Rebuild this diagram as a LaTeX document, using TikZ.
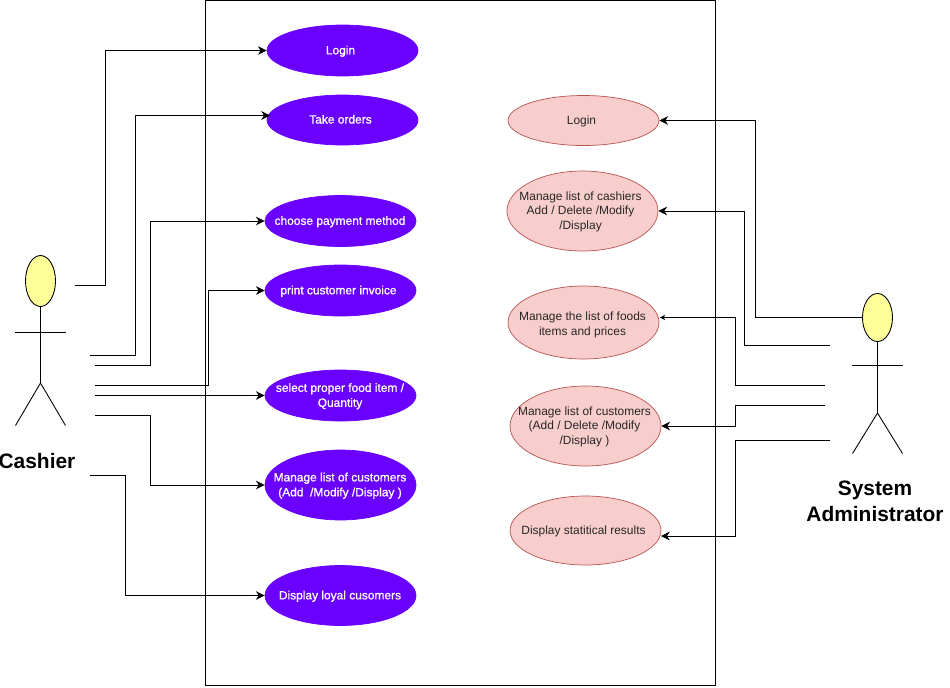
\documentclass[tikz,border=0pt]{standalone}
\usepackage{fontspec}
\setmainfont{Liberation Sans}
\newfontfamily\cashfont[FakeBold=1]{Liberation Sans}
\usetikzlibrary{arrows.meta,shapes.geometric}
\definecolor{cashcase}{HTML}{6A00FF}
\definecolor{admincase}{HTML}{F8CECC}
\definecolor{adminline}{HTML}{B85450}
\definecolor{headfill}{HTML}{FFFF99}
\tikzset{
    usecase/.style={ellipse,draw,inner sep=0pt,minimum width=151*0.02cm,line width=0.4pt},
    cashcase/.style={usecase,draw=cashcase,fill=cashcase},
    admincase/.style={usecase,draw=adminline,fill=admincase},
    casetext/.style={inner sep=0pt,align=center,xshift=-0.04cm,yshift=-0.015cm},
    cashtext/.style={casetext,text=white,font=\fontsize{6.8}{8.5}\selectfont\cashfont},
    admintext/.style={casetext,text=black!85,font=\fontsize{6.8}{8.4}\selectfont},
    nudge/.style={xshift=0.03cm},
    actorhead/.style={ellipse,draw,fill=headfill,inner sep=0pt,minimum width=30*0.02cm,line width=0.5pt},
    actorname/.style={align=center,inner sep=0pt,font=\fontsize{11.9}{14.8}\selectfont\bfseries},
    link/.style={-{Stealth[length=5pt,width=5pt]},line width=0.57pt},
    limb/.style={line width=0.5pt}
}
\begin{document}
\begin{tikzpicture}[x=0.02cm,y=-0.02cm]
    \useasboundingbox (0,0) rectangle (950,687);

    % System box
    \node[draw,line width=0.57pt,inner sep=0pt,minimum width=510*0.02cm,minimum height=685*0.02cm] (sysbox) at (460.5,343) {};

    % Cashier use cases
    \node[cashcase,minimum height=51*0.02cm,label={[cashtext]center:Login}] (login) at (342.5,50.5) {};
    \node[cashcase,minimum height=50*0.02cm,label={[cashtext,yshift=0.03cm]center:Take orders}] (orders) at (342.5,120) {};
    \node[cashcase,minimum height=51*0.02cm,label={[cashtext,nudge]center:choose payment method}] (payment) at (340.5,221) {};
    \node[cashcase,minimum height=51*0.02cm,label={[cashtext]center:print customer invoice}] (invoice) at (340.5,290.5) {};
    \node[cashcase,minimum height=51*0.02cm,label={[cashtext,nudge]center:select proper food item /\\Quantity}] (food) at (340.5,395.5) {};
    \node[cashcase,minimum height=70*0.02cm,label={[cashtext,nudge]center:Manage list of customers\\(Add \ /Modify /Display )}] (customers) at (340.5,485) {};
    \node[cashcase,minimum height=60*0.02cm,label={[cashtext,nudge]center:Display loyal cusomers}] (loyal) at (340.5,595.5) {};

    % Administrator use cases
    \node[admincase,minimum height=50*0.02cm,label={[admintext]center:Login}] (adlogin) at (583.5,120.5) {};
    \node[admincase,minimum height=80*0.02cm,label={[admintext]center:Manage list of cashiers\\Add / Delete /Modify\\/Display}] (adcashiers) at (582.5,211) {};
    \node[admincase,minimum height=73*0.02cm,label={[admintext,xshift=0.02cm,yshift=-0.03cm]center:Manage the list of foods\\items and prices}] (adfoods) at (583.5,322.5) {};
    \node[admincase,minimum height=80*0.02cm,label={[admintext,xshift=0.02cm]center:Manage list of customers\\(Add / Delete /Modify\\/Display )}] (adcustomers) at (585.5,426) {};
    \node[admincase,minimum height=69*0.02cm,label={[admintext]center:Display statitical results}] (adresults) at (585.5,530.5) {};

    % Cashier actor
    \node[actorhead,minimum height=51*0.02cm] (cashhead) at (40.5,281) {};
    \coordinate (cashhip) at (40.5,383);
    \draw[limb] (cashhead.south) -- (cashhip);
    \draw[limb] (15,332) -- (66,332);
    \draw[limb] (15.5,425.5) -- (cashhip) -- (65.5,425.5);
    \node[actorname] (cashname) at (37,461) {Cashier};

    % Administrator actor
    \node[actorhead,minimum height=48*0.02cm] (adminhead) at (877.5,317.5) {};
    \coordinate (adminhip) at (877.5,413);
    \draw[limb] (adminhead.south) -- (adminhip);
    \draw[limb] (852,365.5) -- (903,365.5);
    \draw[limb] (852.5,453.5) -- (adminhip) -- (902.5,453.5);
    \node[actorname] (adminname) at (875,501) {System\\Administrator};

    % Free ends beside the actors
    \coordinate (c1) at (75,285.5);
    \coordinate (c2) at (90,355.5);
    \coordinate (c3) at (95,365.5);
    \coordinate (c4) at (95,385.5);
    \coordinate (c5) at (95,395.5);
    \coordinate (c6) at (95,415.5);
    \coordinate (c7) at (90,475.5);
    \coordinate (a2) at (830,345.5);
    \coordinate (a3) at (825,385.5);
    \coordinate (a4) at (825,405.5);
    \coordinate (a5) at (830,440.5);
    \coordinate (ordersin) at (270,115.5);
    \coordinate (foodsin) at (660,317.5);
    \coordinate (resultsin) at (661,536);

    % Cashier links
    \draw[link] (c1) -- (105.5,285.5) |- (login.west);
    \draw[link] (c2) -- (135.5,355.5) |- (ordersin);
    \draw[link] (c3) -- (150.5,365.5) |- (payment.west);
    \draw[link] (c4) -- (208.5,385.5) |- (invoice.west);
    \draw[link] (c5) -- (food.west);
    \draw[link] (c6) -- (150.5,415.5) |- (customers.west);
    \draw[link] (c7) -- (125.5,475.5) |- (loyal.west);

    % Administrator links
    \draw[link] (adminhead.west) -- (755.5,317.5) |- (adlogin.east);
    \draw[link] (a2) -- (744,345.5) |- (adcashiers.east);
    \draw[-{Stealth[length=3pt,width=3pt]},line width=0.57pt] (a3) -- (735.5,385.5) |- (foodsin);
    \draw[link] (a4) -- (735.5,405.5) |- (adcustomers.east);
    \draw[link] (a5) -- (735.5,440.5) |- (resultsin);
\end{tikzpicture}
\end{document}
